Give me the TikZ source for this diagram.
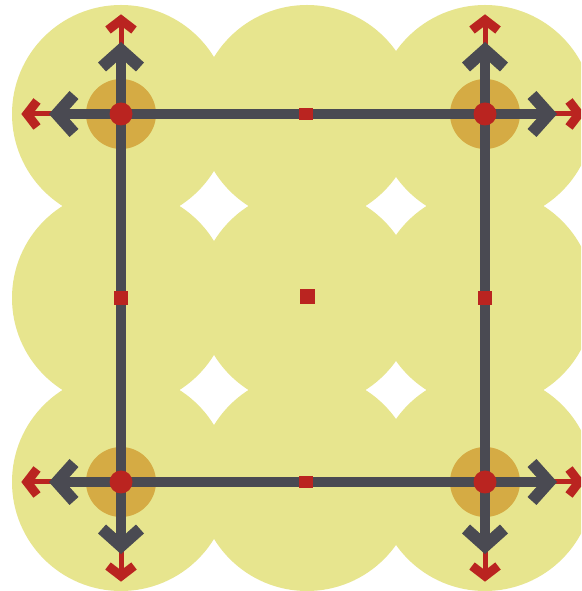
\documentclass[tikz,border=0pt]{standalone}
\usetikzlibrary{calc}
\definecolor{disc}{RGB}{231,229,142}
\definecolor{gold}{RGB}{213,171,68}
\definecolor{redc}{RGB}{186,36,32}
\definecolor{grayc}{RGB}{74,74,82}
\tikzset{
  yellowdisc/.style={fill=disc, draw=none},
  golddisc/.style={fill=gold, draw=none},
  grayline/.style={draw=grayc, line width=10pt, line cap=butt, line join=miter},
  grayhead/.style={draw=grayc, line width=12pt, line cap=butt, line join=miter},
  redline/.style={draw=redc, line width=5pt, line cap=butt},
  redhead/.style={draw=redc, line width=9pt, line cap=butt, line join=miter},
  reddot/.style={fill=redc, draw=none},
  redsq/.style={fill=redc, draw=none}
}
\begin{document}
\begin{tikzpicture}[x=1pt,y=1pt]
\useasboundingbox (0,0) rectangle (581,591);
\clip (0,0) rectangle (581,591);
\fill[white] (0,0) rectangle (581,591);
% yellow discs
\foreach \x in {121,307,485} {
  \foreach \y in {477,293,109} {
    \fill[yellowdisc] (\x,\y) circle (109);
  }
}
% corners
\coordinate (TL) at (121,477);
\coordinate (TR) at (485,477);
\coordinate (BL) at (121,109);
\coordinate (BR) at (485,109);
\coordinate (MT) at (306,477);
\coordinate (MB) at (306,109);
\coordinate (ML) at (121,293);
\coordinate (MR) at (485,293);
\coordinate (CC) at (307,294);
\foreach \c in {TL,TR,BL,BR} {
  \fill[golddisc] (\c) circle (35);
}
% red arrows
\foreach \c/\dx/\dy in {TL/0/1, TL/-1/0, TR/0/1, TR/1/0, BL/-1/0, BL/0/-1, BR/1/0, BR/0/-1} {
  \draw[redline] (\c) -- ($(\c)+(94*\dx,94*\dy)$);
  \draw[redhead] ($(\c)+(84*\dx-13*\dy,84*\dy+13*\dx)$) -- ($(\c)+(94*\dx,94*\dy)$) -- ($(\c)+(84*\dx+13*\dy,84*\dy-13*\dx)$);
}
% gray square
\draw[grayline] (TL) -- (TR) -- (BR) -- (BL) -- cycle;
% gray arrows
\foreach \c/\dx/\dy in {TL/0/1, TL/-1/0, TR/0/1, TR/1/0, BL/-1/0, BL/0/-1, BR/1/0, BR/0/-1} {
  \draw[grayline] (\c) -- ($(\c)+(64*\dx,64*\dy)$);
  \draw[grayhead] ($(\c)+(47*\dx-19*\dy,47*\dy+19*\dx)$) -- ($(\c)+(64*\dx,64*\dy)$) -- ($(\c)+(47*\dx+19*\dy,47*\dy-19*\dx)$);
}
% red dots and squares
\foreach \c in {TL,TR,BL,BR} {
  \fill[reddot] (\c) circle (11.5);
}
\foreach \c in {MT,MB} {
  \fill[redsq] ($(\c)+(-7,-6)$) rectangle ($(\c)+(7,6)$);
}
\foreach \c in {ML,MR} {
  \fill[redsq] ($(\c)+(-7,-7)$) rectangle ($(\c)+(7,7)$);
}
\fill[redsq] ($(CC)+(-7.5,-7.5)$) rectangle ($(CC)+(7.5,7.5)$);
\end{tikzpicture}
\end{document}
